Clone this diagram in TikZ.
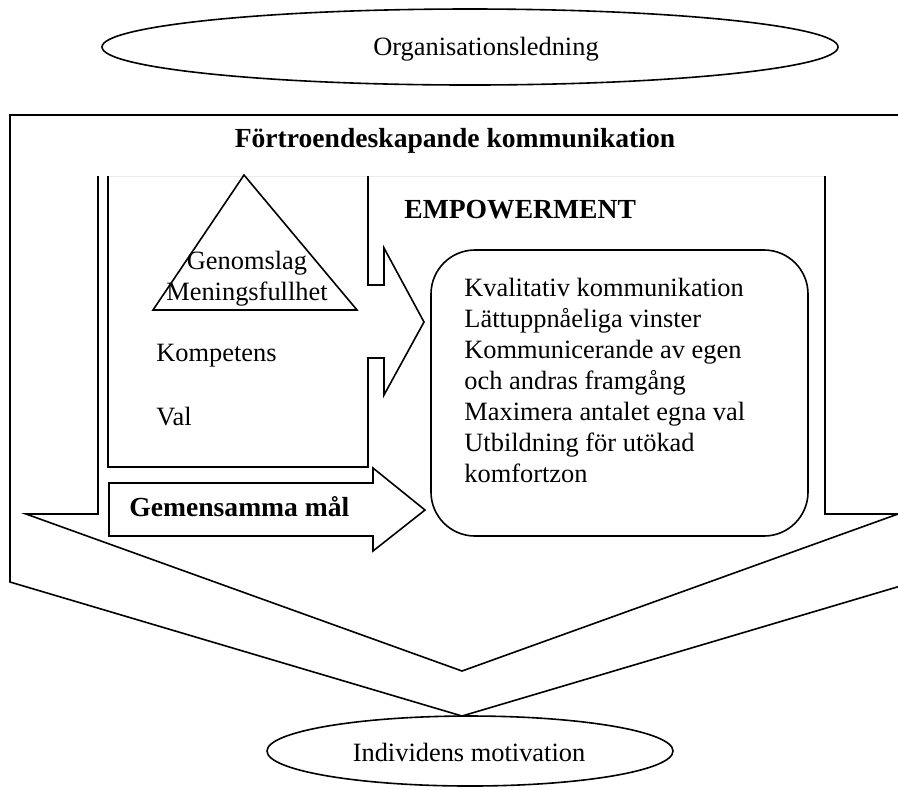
\documentclass[tikz,border=0pt]{standalone}
\usepackage{fontspec}
\setmainfont{Liberation Serif}
\usetikzlibrary{shapes.geometric}

\tikzset{
  txt/.style={inner sep=0pt, font=\fontsize{13.2}{15.5}\selectfont},
  rubrik/.style={txt, font=\fontsize{13.8}{15.5}\selectfont\bfseries},
  oval/.style={draw, thick, ellipse, inner sep=0pt},
  kant/.style={thick, line join=miter}
}

\begin{document}
\begin{tikzpicture}[x=0.5pt, y=-0.5pt]
\useasboundingbox (0,0) rectangle (898,789);
\begin{scope}
\clip (0,0) rectangle (898,789);
% yttre pil
\draw[kant] (914,115) -- (10,115) -- (10,582) -- (462,716) -- (914,582) -- cycle;
% inre pil nedat
\draw[gray!15] (108,176) -- (825,176);
\draw[kant] (98,176) -- (98,514) -- (26,514) -- (462,671) -- (898,514) -- (825,514) -- (825,176);
\end{scope}
% pil mot empowerment
\draw[kant] (108,176) -- (108,467) -- (368,467) -- (368,358) -- (384,358) -- (384,395)
  -- (424,322) -- (384,248) -- (384,285) -- (368,285) -- (368,176);
% gemensamma mal
\draw[kant] (109,483) -- (373,483) -- (373,468) -- (425,510) -- (373,551) -- (373,536) -- (109,536) -- cycle;
\draw[kant] (244,175) -- (153,310) -- (357,310) -- cycle;
\draw[kant, rounded corners=22pt] (431,250) rectangle (808,536);

\node[oval, minimum width=368pt, minimum height=38pt] (org) at (470,47) {};
\node[txt] (orgtxt) at (486,49) {Organisationsledning};
\node[oval, minimum width=203pt, minimum height=35pt] (ind) at (470,751) {};
\node[txt] (indtxt) at (469,752) {Individens motivation};

\node[rubrik] (tillit) at (455,141) {Förtroendeskapande kommunikation};
\node[rubrik, anchor=west] (empow) at (404,210) {EMPOWERMENT};
\node[txt, align=center] (genom) at (247,279) {Genomslag\\Meningsfullhet};
\node[txt, anchor=west] (komp) at (156,356) {Kompetens};
\node[txt, anchor=west] (val) at (156,417) {Val};
\node[rubrik, anchor=west] (mal) at (129,507) {Gemensamma mål};
\node[txt, align=left, anchor=north west] (lista) at (464,278) {Kvalitativ kommunikation\\
  Lättuppnåeliga vinster\\Kommunicerande av egen\\och andras framgång\\
  Maximera antalet egna val\\Utbildning för utökad\\komfortzon};
\end{tikzpicture}
\end{document}
